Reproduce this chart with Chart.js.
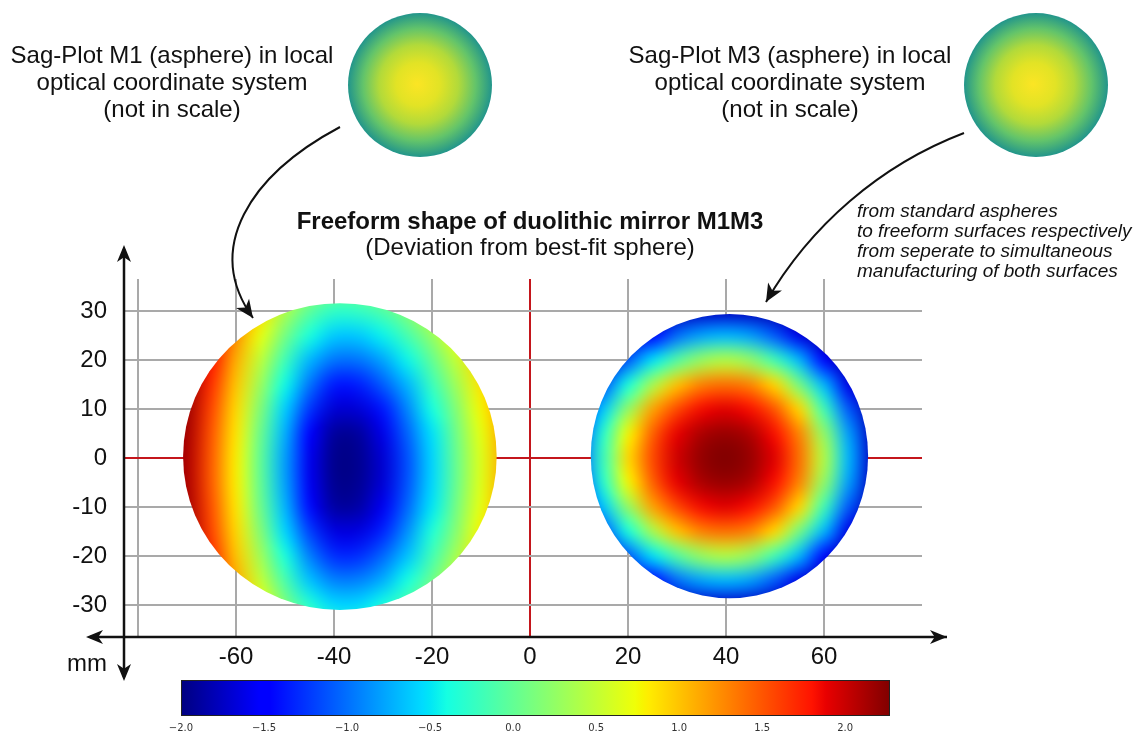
<!DOCTYPE html>
<html>
<head>
<meta charset="utf-8">
<title>Freeform shape of duolithic mirror M1M3</title>
<script src="https://cdn.jsdelivr.net/npm/chart.js@4.4.1/dist/chart.umd.min.js"></script>
<style>
  html, body { margin: 0; padding: 0; background: #fff; }
  #wrap { position: relative; width: 1141px; height: 736px; }
  #main { position: absolute; left: 0; top: 0; }
  #cbar { position: absolute; left: 160px; top: 670px; }
</style>
</head>
<body>
<div id="wrap">
  <canvas id="main" width="1141" height="736"></canvas>
  <canvas id="cbar" width="750" height="66"></canvas>
</div>
<script>
// axis ranges and ticks (mm)
const xMin = -82.86, xMax = 80;
const yMin = -36.53, yMax = 36.53;
const xTicks = [-80, -60, -40, -20, 0, 20, 40, 60];
const xTickLabels = ['', '-60', '-40', '-20', '0', '20', '40', '60'];
const yTicks = [-30, -20, -10, 0, 10, 20, 30];
const yTickLabels = ['-30', '-20', '-10', '0', '10', '20', '30'];

// surface samples, rows go with sampleY
const sampleY = [35, 30, 25, 20, 15, 10, 5, 0, -5, -10, -15, -20, -25, -30, -35];
const m1SampleX = [-75, -70, -65, -60, -55, -50, -45, -40, -35, -30, -25, -20, -15, -10, -5];
const m3SampleX = [5, 10, 15, 20, 25, 30, 35, 40, 45, 50, 55, 60, 65, 70, 75];

const m1Deviation = [
  [2.25, 2.25, 2.13, 1.68, 1.13, 0.72, 0.33, 0.13, 0.13, 0.28, 0.52, 0.84, 1.15, 1.55, 1.95],
  [2.25, 2.25, 2.01, 1.45, 0.91, 0.39, -0.03, -0.26, -0.24, -0.09, 0.18, 0.56, 0.94, 1.30, 1.82],
  [2.25, 2.25, 1.90, 1.25, 0.70, 0.10, -0.37, -0.62, -0.62, -0.45, -0.14, 0.26, 0.74, 1.14, 1.63],
  [2.25, 2.24, 1.80, 1.10, 0.48, -0.18, -0.70, -0.98, -0.98, -0.77, -0.44, 0.00, 0.51, 0.99, 1.45],
  [2.25, 2.20, 1.67, 0.99, 0.30, -0.42, -0.98, -1.37, -1.35, -1.08, -0.70, -0.21, 0.33, 0.86, 1.32],
  [2.25, 2.15, 1.57, 0.90, 0.15, -0.60, -1.25, -1.69, -1.68, -1.38, -0.90, -0.39, 0.18, 0.77, 1.23],
  [2.25, 2.12, 1.50, 0.84, 0.04, -0.73, -1.47, -1.90, -1.89, -1.61, -1.05, -0.52, 0.08, 0.69, 1.18],
  [2.25, 2.10, 1.47, 0.80, -0.01, -0.80, -1.59, -1.95, -1.94, -1.69, -1.13, -0.57, 0.04, 0.64, 1.15],
  [2.25, 2.10, 1.47, 0.80, 0.00, -0.79, -1.58, -1.94, -1.93, -1.68, -1.12, -0.56, 0.04, 0.65, 1.15],
  [2.25, 2.12, 1.52, 0.84, 0.05, -0.71, -1.43, -1.87, -1.86, -1.58, -1.03, -0.50, 0.10, 0.70, 1.18],
  [2.25, 2.16, 1.58, 0.91, 0.17, -0.57, -1.20, -1.64, -1.64, -1.32, -0.86, -0.35, 0.20, 0.78, 1.24],
  [2.25, 2.20, 1.70, 1.00, 0.33, -0.37, -0.93, -1.28, -1.28, -1.03, -0.65, -0.17, 0.36, 0.89, 1.33],
  [2.25, 2.24, 1.82, 1.13, 0.51, -0.12, -0.65, -0.92, -0.92, -0.73, -0.39, 0.05, 0.56, 1.01, 1.48],
  [2.25, 2.25, 1.91, 1.28, 0.75, 0.15, -0.32, -0.56, -0.56, -0.39, -0.08, 0.31, 0.78, 1.16, 1.67],
  [2.25, 2.25, 2.03, 1.48, 0.95, 0.44, 0.04, -0.19, -0.18, -0.03, 0.25, 0.60, 0.98, 1.35, 1.84]
];

const m3Deviation = [
  [-1.95, -1.95, -1.95, -1.95, -1.95, -1.95, -1.95, -1.95, -1.95, -1.95, -1.95, -1.95, -1.95, -1.95, -1.95],
  [-1.95, -1.95, -1.95, -1.95, -1.94, -1.85, -1.77, -1.75, -1.78, -1.87, -1.95, -1.95, -1.95, -1.95, -1.95],
  [-1.95, -1.95, -1.95, -1.81, -1.47, -1.02, -0.78, -0.70, -0.80, -1.10, -1.62, -1.90, -1.95, -1.95, -1.95],
  [-1.95, -1.95, -1.76, -1.10, -0.52, -0.08, 0.28, 0.42, 0.25, -0.18, -0.70, -1.45, -1.90, -1.95, -1.95],
  [-1.95, -1.82, -1.13, -0.38, 0.36, 1.00, 1.30, 1.38, 1.28, 0.90, 0.08, -0.70, -1.62, -1.95, -1.95],
  [-1.95, -1.55, -0.62, 0.25, 1.14, 1.56, 1.84, 1.91, 1.82, 1.49, 0.90, -0.18, -1.10, -1.87, -1.95],
  [-1.89, -1.25, -0.30, 0.76, 1.45, 1.89, 2.11, 2.18, 2.09, 1.82, 1.28, 0.25, -0.80, -1.78, -1.95],
  [-1.86, -1.13, -0.20, 0.90, 1.56, 1.98, 2.20, 2.27, 2.18, 1.91, 1.38, 0.42, -0.70, -1.75, -1.95],
  [-1.89, -1.25, -0.30, 0.76, 1.45, 1.89, 2.11, 2.18, 2.09, 1.82, 1.28, 0.25, -0.80, -1.78, -1.95],
  [-1.95, -1.55, -0.62, 0.25, 1.14, 1.56, 1.84, 1.91, 1.82, 1.49, 0.90, -0.18, -1.10, -1.87, -1.95],
  [-1.95, -1.82, -1.13, -0.38, 0.36, 1.00, 1.30, 1.38, 1.28, 0.90, 0.08, -0.70, -1.62, -1.95, -1.95],
  [-1.95, -1.95, -1.76, -1.10, -0.52, -0.08, 0.28, 0.42, 0.25, -0.18, -0.70, -1.45, -1.90, -1.95, -1.95],
  [-1.95, -1.95, -1.95, -1.81, -1.47, -1.02, -0.78, -0.70, -0.80, -1.10, -1.62, -1.90, -1.95, -1.95, -1.95],
  [-1.95, -1.95, -1.95, -1.95, -1.94, -1.85, -1.77, -1.75, -1.78, -1.87, -1.95, -1.95, -1.95, -1.95, -1.95],
  [-1.95, -1.95, -1.95, -1.95, -1.95, -1.95, -1.95, -1.95, -1.95, -1.95, -1.95, -1.95, -1.95, -1.95, -1.95]
];

// mirror apertures (mm): M1 left, M3 right
const diskCenterX = [-38.8, 40.7];
const diskCenterY = [0.3, 0.4];
const diskRadiusX = [32.0, 28.3];
const diskRadiusY = [31.3, 29.0];

// colorbar
const colorMin = -2.0, colorMax = 2.27;
const colorTicks = [-2.0, -1.5, -1.0, -0.5, 0.0, 0.5, 1.0, 1.5, 2.0];

const FONT = "'Liberation Sans', Arial, sans-serif";
const GRID_GREY = '#a9a9a9';
const AXIS_RED = '#c4161c';

// matplotlib 'jet'
const jetR = [[0, 0], [0.35, 0], [0.66, 1], [0.89, 1], [1, 0.5]];
const jetG = [[0, 0], [0.125, 0], [0.375, 1], [0.64, 1], [0.91, 0], [1, 0]];
const jetB = [[0, 0.5], [0.11, 1], [0.34, 1], [0.65, 0], [1, 0]];

function seg(t, pts) {
    for (let i = 1; i < pts.length; i++) {
        if (t <= pts[i][0]) {
            const [t0, v0] = pts[i - 1], [t1, v1] = pts[i];
            return v0 + (v1 - v0) * (t - t0) / (t1 - t0);
        }
    }
    return pts[pts.length - 1][1];
}

function jet(t) {
    t = Math.min(1, Math.max(0, t));
    return [seg(t, jetR), seg(t, jetG), seg(t, jetB)].map(c => Math.round(c * 255));
}

function jetValue(v) {
    return jet((v - colorMin) / (colorMax - colorMin));
}

const surfaces = [
    { xs: m1SampleX, ys: sampleY, values: m1Deviation },
    { xs: m3SampleX, ys: sampleY, values: m3Deviation }
];

// draws the sampled surfaces through the x/y scales, clipped to each aperture
const surfacePlugin = {
    id: 'surfaces',
    beforeDatasetsDraw(chart) {
        const { ctx, scales: { x, y } } = chart;
        surfaces.forEach((s, n) => {
            const nx = s.xs.length, ny = s.ys.length;
            const off = document.createElement('canvas');
            off.width = nx;
            off.height = ny;
            const octx = off.getContext('2d');
            const img = octx.createImageData(nx, ny);
            s.values.forEach((row, j) => row.forEach((v, i) => {
                const [r, g, b] = jetValue(v);
                const k = (j * nx + i) * 4;
                img.data[k] = r;
                img.data[k + 1] = g;
                img.data[k + 2] = b;
                img.data[k + 3] = 255;
            }));
            octx.putImageData(img, 0, 0);

            const dx = s.xs[1] - s.xs[0];
            const dy = s.ys[0] - s.ys[1];
            const left = x.getPixelForValue(s.xs[0] - dx / 2);
            const right = x.getPixelForValue(s.xs[nx - 1] + dx / 2);
            const top = y.getPixelForValue(s.ys[0] + dy / 2);
            const bottom = y.getPixelForValue(s.ys[ny - 1] - dy / 2);

            const cx = x.getPixelForValue(diskCenterX[n]);
            const cy = y.getPixelForValue(diskCenterY[n]);
            const rx = x.getPixelForValue(diskCenterX[n] + diskRadiusX[n]) - cx;
            const ry = cy - y.getPixelForValue(diskCenterY[n] + diskRadiusY[n]);

            ctx.save();
            ctx.beginPath();
            ctx.ellipse(cx, cy, rx, ry, 0, 0, Math.PI * 2);
            ctx.clip();
            ctx.imageSmoothingEnabled = true;
            ctx.imageSmoothingQuality = 'high';
            ctx.drawImage(off, left, top, right - left, bottom - top);
            ctx.restore();
        });
    }
};

function arrowHead(ctx, tx, ty, angle, len, half) {
    ctx.save();
    ctx.translate(tx, ty);
    ctx.rotate(angle);
    ctx.beginPath();
    ctx.moveTo(0, 0);
    ctx.lineTo(-len, -half);
    ctx.lineTo(-len * 0.72, 0);
    ctx.lineTo(-len, half);
    ctx.closePath();
    ctx.fill();
    ctx.restore();
}

function curvedArrow(ctx, p0, c1, c2, p3) {
    ctx.beginPath();
    ctx.moveTo(p0[0], p0[1]);
    ctx.bezierCurveTo(c1[0], c1[1], c2[0], c2[1], p3[0], p3[1]);
    ctx.stroke();
    arrowHead(ctx, p3[0], p3[1], Math.atan2(p3[1] - c2[1], p3[0] - c2[0]), 18, 8);
}

function sagDisk(ctx, cx, cy, r) {
    const g = ctx.createRadialGradient(cx - 3, cy - 1, 0, cx, cy, r);
    g.addColorStop(0, '#fbe524');
    g.addColorStop(0.3, '#e2e325');
    g.addColorStop(0.55, '#b2da3a');
    g.addColorStop(0.78, '#63c46a');
    g.addColorStop(1, '#22958b');
    ctx.fillStyle = g;
    ctx.beginPath();
    ctx.arc(cx, cy, r, 0, Math.PI * 2);
    ctx.fill();
}

// axes with arrows, annotations and headings
const decorPlugin = {
    id: 'decor',
    afterDraw(chart) {
        const { ctx, chartArea: a, scales: { x } } = chart;
        ctx.save();
        ctx.fillStyle = '#111';
        ctx.strokeStyle = '#111';

        // axis lines
        ctx.lineWidth = 2.5;
        ctx.beginPath();
        ctx.moveTo(a.left, a.top - 30);
        ctx.lineTo(a.left, a.bottom + 40);
        ctx.moveTo(a.left - 34, a.bottom);
        ctx.lineTo(947, a.bottom);
        ctx.stroke();
        arrowHead(ctx, a.left, a.top - 34, -Math.PI / 2, 17, 7);
        arrowHead(ctx, a.left, a.bottom + 44, Math.PI / 2, 17, 7);
        arrowHead(ctx, a.left - 38, a.bottom, Math.PI, 17, 7);
        arrowHead(ctx, 947, a.bottom, 0, 17, 7);

        ctx.font = '24px ' + FONT;
        ctx.textAlign = 'right';
        ctx.textBaseline = 'alphabetic';
        ctx.fillText('mm', 107, 671);

        // heading, centred on x = 0
        const cx0 = x.getPixelForValue(0);
        ctx.textAlign = 'center';
        ctx.font = 'bold 24px ' + FONT;
        ctx.fillText('Freeform shape of duolithic mirror M1M3', cx0, 229);
        ctx.font = '24px ' + FONT;
        ctx.fillText('(Deviation from best-fit sphere)', cx0, 255);

        // sag plot notes
        const notes = ['optical coordinate system', '(not in scale)'];
        [['Sag-Plot M1 (asphere) in local', 172], ['Sag-Plot M3 (asphere) in local', 790]].forEach(([first, tx]) => {
            ctx.fillText(first, tx, 63);
            ctx.fillText(notes[0], tx, 90);
            ctx.fillText(notes[1], tx, 117);
        });

        ctx.font = 'italic 19px ' + FONT;
        ctx.textAlign = 'left';
        ['from standard aspheres',
         'to freeform surfaces respectively',
         'from seperate to simultaneous',
         'manufacturing of both surfaces'].forEach((t, i) => ctx.fillText(t, 857, 217 + i * 20));

        sagDisk(ctx, 420, 85, 72);
        sagDisk(ctx, 1036, 85, 72);

        ctx.fillStyle = '#111';
        ctx.lineWidth = 2;
        curvedArrow(ctx, [340, 127], [250, 175], [203, 248], [253, 318]);
        curvedArrow(ctx, [964, 133], [880, 165], [810, 226], [766, 302]);
        ctx.restore();
    }
};

function gridColor(v) {
    if (v === 0) return AXIS_RED;
    return GRID_GREY;
}

new Chart(document.getElementById('main'), {
    type: 'scatter',
    data: { datasets: [] },
    options: {
        responsive: false,
        devicePixelRatio: 1,
        animation: false,
        events: [],
        layout: { padding: { top: 279, right: 219, bottom: 0, left: 0 } },
        plugins: { legend: { display: false }, tooltip: { enabled: false }, title: { display: false } },
        scales: {
            x: {
                type: 'linear',
                min: xMin,
                max: xMax,
                afterFit: s => { s.height = 99; },
                afterBuildTicks: s => { s.ticks = xTicks.map(v => ({ value: v })); },
                grid: { color: c => gridColor(c.tick.value), lineWidth: 2, drawTicks: false },
                border: { display: false },
                ticks: {
                    autoSkip: false,
                    maxRotation: 0,
                    padding: 6,
                    color: '#111',
                    font: { family: FONT, size: 24 },
                    callback: (v, i) => xTickLabels[i]
                }
            },
            y: {
                type: 'linear',
                min: yMin,
                max: yMax,
                afterFit: s => { s.width = 124; },
                afterBuildTicks: s => { s.ticks = yTicks.map(v => ({ value: v })); },
                grid: { color: c => gridColor(c.tick.value), lineWidth: 2, drawTicks: false },
                border: { display: false },
                ticks: {
                    autoSkip: false,
                    padding: 17,
                    color: '#111',
                    font: { family: FONT, size: 24 },
                    callback: (v, i) => yTickLabels[i]
                }
            }
        }
    },
    plugins: [surfacePlugin, decorPlugin]
});

// colorbar: jet gradient laid on its own linear scale
const jetStops = [0, 0.11, 0.125, 0.34, 0.35, 0.375, 0.64, 0.65, 0.66, 0.89, 0.91, 1];

const colorbarPlugin = {
    id: 'colorbar',
    beforeDatasetsDraw(chart) {
        const { ctx, chartArea: a, scales: { x } } = chart;
        const x0 = x.getPixelForValue(colorMin);
        const x1 = x.getPixelForValue(colorMax);
        const g = ctx.createLinearGradient(x0, 0, x1, 0);
        jetStops.forEach(t => {
            const [r, gg, b] = jet(t);
            g.addColorStop(t, `rgb(${r},${gg},${b})`);
        });
        ctx.save();
        ctx.fillStyle = g;
        ctx.fillRect(x0, a.top, x1 - x0, a.bottom - a.top);
        ctx.strokeStyle = '#222';
        ctx.lineWidth = 1;
        ctx.strokeRect(x0 + 0.5, a.top + 0.5, x1 - x0 - 1, a.bottom - a.top - 1);
        ctx.restore();
    }
};

new Chart(document.getElementById('cbar'), {
    type: 'scatter',
    data: { datasets: [] },
    options: {
        responsive: false,
        devicePixelRatio: 1,
        animation: false,
        events: [],
        layout: { padding: { left: 21, right: 20, top: 10, bottom: 0 } },
        plugins: { legend: { display: false }, tooltip: { enabled: false } },
        scales: {
            x: {
                type: 'linear',
                min: colorMin,
                max: colorMax,
                afterFit: s => { s.height = 20; },
                afterBuildTicks: s => { s.ticks = colorTicks.map(v => ({ value: v })); },
                grid: { display: false, drawTicks: false },
                border: { display: false },
                ticks: {
                    autoSkip: false,
                    maxRotation: 0,
                    padding: 6,
                    color: '#333',
                    font: { family: "'DejaVu Sans', sans-serif", size: 10 },
                    callback: v => (v < 0 ? '\u2212' : '') + Math.abs(v).toFixed(1)
                }
            },
            y: { display: false, min: 0, max: 1 }
        }
    },
    plugins: [colorbarPlugin]
});
</script>
</body>
</html>
